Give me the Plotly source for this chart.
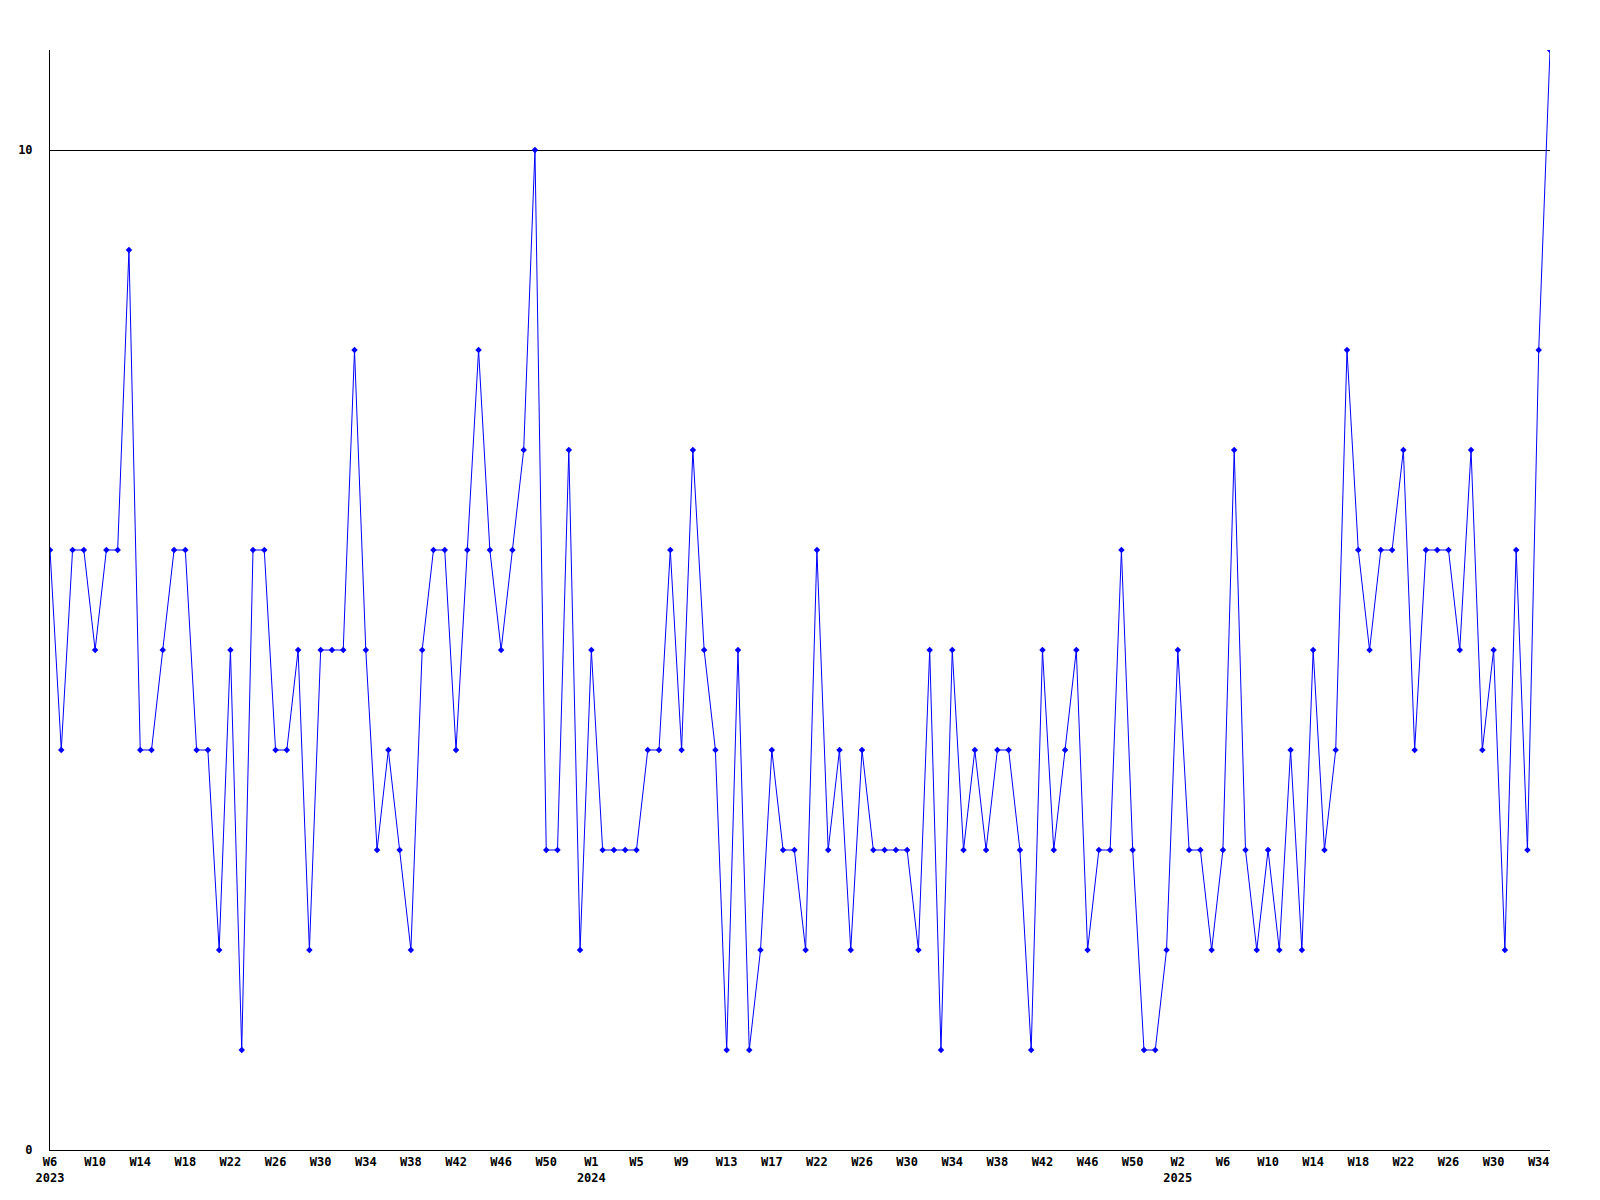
import plotly.graph_objects as go

# Week numbers per year (one per data point)
weeks_2023 = list(range(6, 54))                       # W6 .. W53
weeks_2024 = list(range(1, 20)) + list(range(21, 53))  # W1 .. W52 (one week absent)
weeks_2025 = list(range(1, 36))                       # W1 .. W35

values = [
    6, 4, 6, 6, 5, 6, 6, 9, 4, 4,
    5, 6, 6, 4, 4, 2, 5, 1, 6, 6,
    4, 4, 5, 2, 5, 5, 5, 8, 5, 3,
    4, 3, 2, 5, 6, 6, 4, 6, 8, 6,
    5, 6, 7, 10, 3, 3, 7, 2, 5, 3,
    3, 3, 3, 4, 4, 6, 4, 7, 5, 4,
    1, 5, 1, 2, 4, 3, 3, 2, 6, 3,
    4, 2, 4, 3, 3, 3, 3, 2, 5, 1,
    5, 3, 4, 3, 4, 4, 3, 1, 5, 3,
    4, 5, 2, 3, 3, 6, 3, 1, 1, 2,
    5, 3, 3, 2, 3, 7, 3, 2, 3, 2,
    4, 2, 5, 3, 4, 8, 6, 5, 6, 6,
    7, 4, 6, 6, 6, 5, 7, 4, 5, 2,
    6, 3, 8, 11,
]

y_tick_values = [0, 10]
label_every = 4

years = ([2023] * len(weeks_2023)) + ([2024] * len(weeks_2024)) + ([2025] * len(weeks_2025))
weeks = weeks_2023 + weeks_2024 + weeks_2025
x_idx = list(range(len(values)))

tickvals, ticktext = [], []
seen_years = set()
for i in range(0, len(values), label_every):
    txt = f"W{weeks[i]}"
    if years[i] not in seen_years:
        seen_years.add(years[i])
        txt += f"<br>{years[i]}"
    tickvals.append(i)
    ticktext.append(txt)

font_family = "DejaVu Sans Mono"

fig = go.Figure()
fig.add_trace(go.Scatter(
    x=x_idx, y=values,
    mode="lines+markers",
    line=dict(color="#0000ff", width=1),
    marker=dict(symbol="diamond", size=5, color="#0000ff"),
    hoverinfo="skip",
    cliponaxis=True,
))

fig.update_layout(
    width=1592, height=1192,
    margin=dict(l=42, r=50, t=42, b=50),
    paper_bgcolor="white", plot_bgcolor="white",
    showlegend=False,
    font=dict(family=font_family, size=12, color="black"),
)
fig.update_xaxes(
    range=[0, len(values) - 1],
    tickvals=tickvals, ticktext=ticktext,
    showgrid=False, zeroline=False,
    showline=True, linecolor="black", linewidth=1,
    ticks="", ticklabelstandoff=1,
    automargin=False,
    tickfont=dict(family=font_family, size=12, color="black", weight="bold"),
)
fig.update_yaxes(
    range=[0, 11],
    tickvals=y_tick_values,
    showgrid=True, gridcolor="black", gridwidth=1,
    zeroline=False,
    showline=True, linecolor="black", linewidth=1,
    ticks="", ticklabelstandoff=14,
    automargin=False,
    tickfont=dict(family=font_family, size=12, color="black", weight="bold"),
)

fig.write_html("out.html")
